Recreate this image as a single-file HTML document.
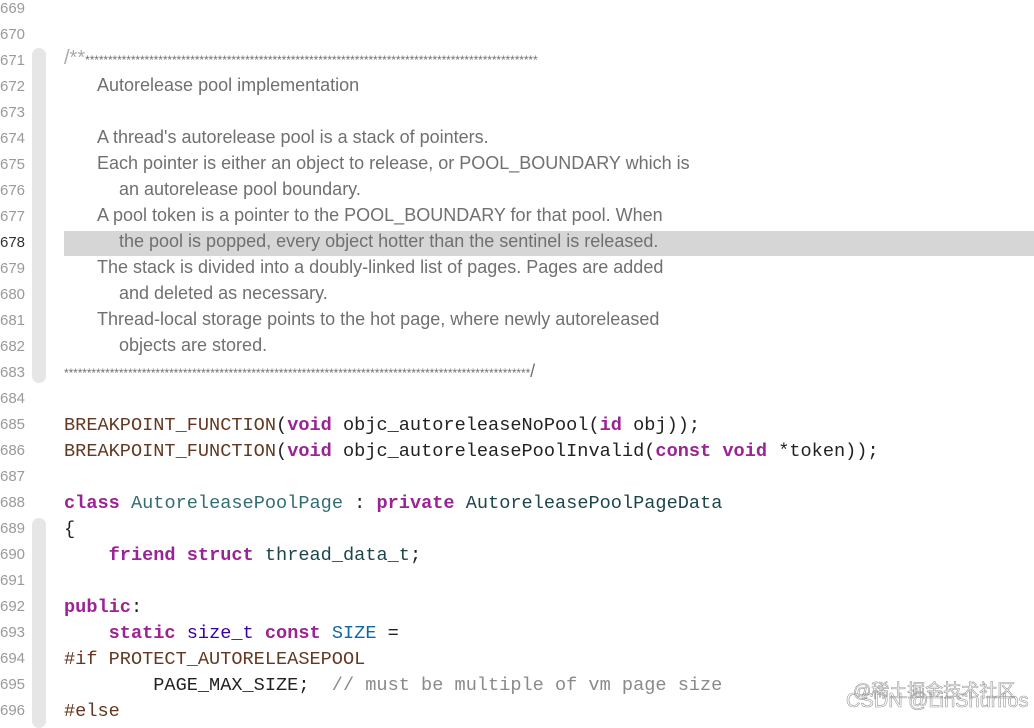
<!DOCTYPE html>
<html><head><meta charset="utf-8"><style>
body{margin:0;width:1034px;height:720px;background:#fff;position:relative;overflow:hidden}
.hl{position:absolute;left:64px;top:231px;width:970px;height:25px;background:#d6d6d6}
.bar{position:absolute;left:32px;width:14px;background:#e6e6e6;border-radius:7px}
.ln{position:absolute;left:0;width:25px;text-align:right;font:15px "Liberation Sans",sans-serif;color:#9a9a9a;height:26px;line-height:26px}
.l{position:absolute;left:64px;height:26px;line-height:26px;white-space:pre;font:18.6px "Liberation Mono",monospace;color:#222}
.c{font:18px "Liberation Sans",sans-serif;color:#707070;margin-top:2px}
.i1{left:97px}.i2{left:119px}
.st{font-size:12px;letter-spacing:-0.1px;color:#707070;font-family:"Liberation Sans",sans-serif}
.m{color:#643820}.k{color:#9b2393;font-weight:bold}.t{color:#326d74}.g{color:#1c464a}.b{color:#0f68a0}.p{color:#3900a0}.cm{color:#8a8a8a}
.wm{position:absolute;font-family:"Liberation Sans","Noto Sans CJK SC",sans-serif;-webkit-text-stroke:0.6px #999;color:transparent}
</style></head><body>
<div class="hl"></div>
<div class="bar" style="top:48px;height:335px"></div>
<div class="bar" style="top:518px;height:210px"></div>
<div id="n"></div>
<div class="l c" style="top:45px"><span style="color:#aaa;font-size:20px">/**</span><span class="st">***************************************************************************************************</span></div>
<div class="l c i1" style="top:73px">Autorelease pool implementation</div>
<div class="l c i1" style="top:125px">A thread's autorelease pool is a stack of pointers.</div>
<div class="l c i1" style="top:151px">Each pointer is either an object to release, or POOL_BOUNDARY which is</div>
<div class="l c i2" style="top:177px">an autorelease pool boundary.</div>
<div class="l c i1" style="top:203px">A pool token is a pointer to the POOL_BOUNDARY for that pool. When</div>
<div class="l c i2" style="top:229px">the pool is popped, every object hotter than the sentinel is released.</div>
<div class="l c i1" style="top:255px">The stack is divided into a doubly-linked list of pages. Pages are added</div>
<div class="l c i2" style="top:281px">and deleted as necessary.</div>
<div class="l c i1" style="top:307px">Thread-local storage points to the hot page, where newly autoreleased</div>
<div class="l c i2" style="top:333px">objects are stored.</div>
<div class="l c" style="top:359px"><span class="st">******************************************************************************************************</span>/</div>
<div class="l" style="top:415px"><span class="m">BREAKPOINT_FUNCTION</span>(<span class="k">void</span> objc_autoreleaseNoPool(<span class="k">id</span> obj));</div>
<div class="l" style="top:441px"><span class="m">BREAKPOINT_FUNCTION</span>(<span class="k">void</span> objc_autoreleasePoolInvalid(<span class="k">const</span> <span class="k">void</span> *token));</div>
<div class="l" style="top:493px"><span class="k">class</span> <span class="t">AutoreleasePoolPage</span> : <span class="k">private</span> <span class="g">AutoreleasePoolPageData</span></div>
<div class="l" style="top:519px">{</div>
<div class="l" style="top:545px">    <span class="k">friend</span> <span class="k">struct</span> <span class="g">thread_data_t</span>;</div>
<div class="l" style="top:597px"><span class="k">public</span>:</div>
<div class="l" style="top:623px">    <span class="k">static</span> <span class="p">size_t</span> <span class="k">const</span> <span class="b">SIZE</span> =</div>
<div class="l" style="top:649px"><span class="m">#if PROTECT_AUTORELEASEPOOL</span></div>
<div class="l" style="top:675px">        PAGE_MAX_SIZE;  <span class="cm">// must be multiple of vm page size</span></div>
<div class="l" style="top:701px"><span class="m">#else</span></div>
<div class="wm" style="left:853px;top:677px;font-size:18px">@稀土掘金技术社区</div>
<div class="wm" style="left:846px;top:690px;font-size:20px">CSDN @LinShunIos</div>
<script>
var h='';for(var i=669;i<=696;i++){var y=(i-669)*26-4;h+='<div class="ln" style="top:'+y+'px;'+(i==678?'color:#333':'')+'">'+i+'</div>';}
document.getElementById('n').innerHTML=h;
</script>
</body></html>
